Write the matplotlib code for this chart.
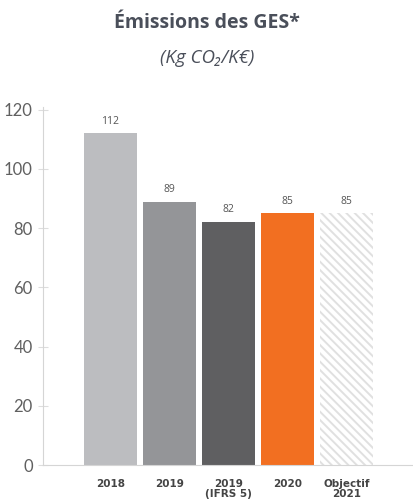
import matplotlib
matplotlib.use("Agg")
import matplotlib.pyplot as plt

# Emissions per year
categories = ["2018", "2019", "2019\n(IFRS 5)", "2020", "Objectif\n2021"]
values = [112, 89, 82, 85, 85]
colors = ["#bcbdc0", "#949598", "#5f5f61", "#f26f21", "white"]
yticks = [0, 20, 40, 60, 80, 100, 120]

plt.rcParams['font.family'] = ['Open Sans', 'DejaVu Sans']
plt.rcParams['hatch.linewidth'] = 1.4

fig = plt.figure(figsize=(4.14, 4.99), dpi=100)
ax = fig.add_axes([0.104, 0.068, 0.89, 0.718])

x = list(range(len(categories)))
bars = ax.bar(x, values, width=0.91, color=colors, edgecolor="none")
# target bar: white with light diagonal hatching
bars[-1].set_hatch("\\\\\\\\")
bars[-1].set_edgecolor("#e0e0e0")
bars[-1].set_linewidth(0)

for xi, v in zip(x, values):
    ax.text(xi, v + 2.3, str(v), ha="center", va="bottom", fontsize=7.5,
            color="#555555")

ax.set_xlim(-1.14, 5.1)
ax.set_ylim(0, 121)
ax.set_yticks(yticks)
ax.set_yticklabels([str(t) for t in yticks], fontsize=12, color="#606060",
                   family=['Lato', 'DejaVu Sans'])
ax.set_xticks(x)
ax.set_xticklabels(categories, fontsize=7.5, fontweight="bold", color="#444444",
                   family=['DejaVu Sans'], linespacing=1.0)
ax.tick_params(axis="x", length=0, pad=10)
ax.tick_params(axis="y", direction="inout", length=7, color="#dddddd", pad=4)

for side in ["top", "right"]:
    ax.spines[side].set_visible(False)
ax.spines["left"].set_color("#d5d5d5")
ax.spines["bottom"].set_color("#d5d5d5")

fig.text(0.5, 0.953, "Émissions des GES*", ha="center", va="center",
         fontsize=14, fontweight="bold", color="#4a4f5a")
fig.text(0.5, 0.884, "(Kg CO₂/K€)", ha="center", va="center",
         fontsize=13.5, style="italic", color="#4a4f5a")

fig.savefig("out.png", dpi=100)
